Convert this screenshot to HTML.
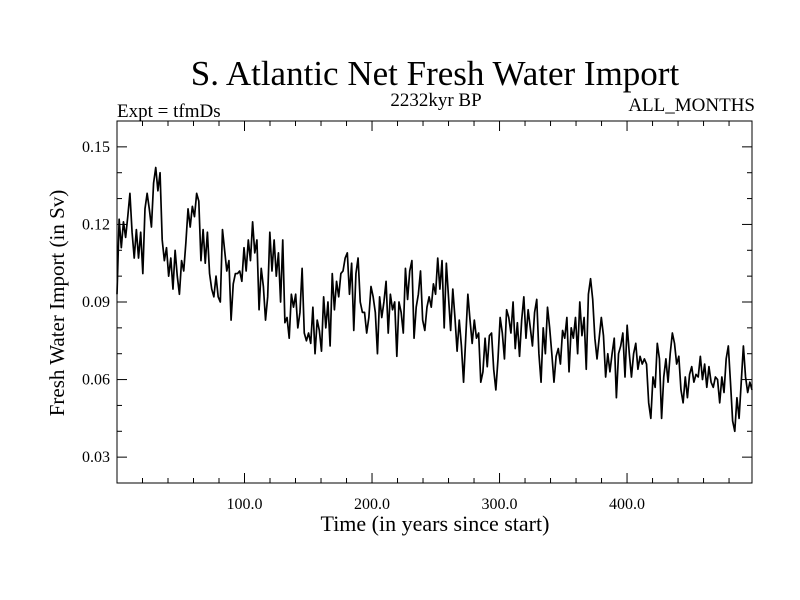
<!DOCTYPE html>
<html><head><meta charset="utf-8"><style>
html,body{margin:0;padding:0;background:#fff;}
svg{display:block;font-family:"Liberation Serif",serif;}
</style></head><body>
<svg id="chart" width="800" height="600" viewBox="0 0 800 600">
<rect x="0" y="0" width="800" height="600" fill="#fff"/>
<text x="435" y="85" text-anchor="middle" font-size="35">S. Atlantic Net Fresh Water Import</text>
<text x="117" y="117" font-size="19">Expt = tfmDs</text>
<text x="436" y="106" text-anchor="middle" font-size="19">2232kyr BP</text>
<text x="755" y="111" text-anchor="end" font-size="19">ALL_MONTHS</text>
<text x="0" y="0" transform="translate(64,303) rotate(-90)" text-anchor="middle" font-size="21">Fresh Water Import (in Sv)</text>
<text x="435" y="531" text-anchor="middle" font-size="22">Time (in years since start)</text>
<g id="axes"></g>
<g id="series"></g>
<rect x="117" y="121" width="635" height="362" fill="none" stroke="#000" stroke-width="1"/>
</svg>
<script>
const xTickValues = [100, 200, 300, 400];
const xTickLabels = ["100.0", "200.0", "300.0", "400.0"];
const yTickValues = [0.03, 0.06, 0.09, 0.12, 0.15];
const yTickLabels = ["0.03", "0.06", "0.09", "0.12", "0.15"];
const xDomain = [0, 498];
const yDomain = [0.02, 0.16];
const importValues = [
0.093,0.122,0.111,0.121,0.115,0.123,0.132,0.117,0.107,0.118,0.107,0.117,0.101,0.126,0.132,0.126,0.119,0.136,0.142,0.133,0.140,0.114,0.106,0.111,0.100,0.107,0.095,0.110,0.100,0.093,0.106,0.102,0.113,0.126,0.119,0.127,0.123,0.132,0.129,0.106,0.118,0.105,0.117,0.101,0.095,0.092,0.100,0.092,0.090,0.118,0.110,0.102,0.106,0.083,0.097,0.101,
0.101,0.102,0.098,0.111,0.102,0.114,0.106,0.121,0.109,0.114,0.087,0.103,0.096,0.083,0.092,0.117,0.102,0.114,0.100,0.109,0.090,0.114,0.082,0.084,0.076,0.093,0.088,0.093,0.080,0.086,0.103,0.078,0.075,0.078,0.074,0.088,0.070,0.083,0.079,0.071,0.092,0.080,0.090,0.073,0.101,0.087,0.098,0.092,0.101,0.102,0.107,0.109,0.093,0.105,0.079,0.101,
0.107,0.090,0.086,0.086,0.078,0.084,0.096,0.092,0.086,0.070,0.092,0.084,0.090,0.098,0.078,0.093,0.087,0.090,0.069,0.090,0.086,0.078,0.103,0.091,0.102,0.106,0.076,0.088,0.093,0.102,0.083,0.079,0.088,0.092,0.088,0.097,0.093,0.107,0.095,0.106,0.080,0.105,0.092,0.079,0.095,0.084,0.071,0.083,0.073,0.059,0.076,0.093,0.083,0.074,0.083,0.076,0.078,0.059,
0.063,0.076,0.065,0.077,0.078,0.064,0.056,0.068,0.084,0.078,0.068,0.087,0.084,0.078,0.090,0.072,0.082,0.069,0.083,0.092,0.076,0.087,0.080,0.073,0.086,0.091,0.070,0.059,0.080,0.070,0.088,0.080,0.070,0.059,0.069,0.072,0.066,0.079,0.076,0.084,0.063,0.080,0.076,0.084,0.070,0.090,0.077,0.084,0.064,0.093,0.099,0.091,0.076,0.068,0.076,0.084,0.077,0.061,0.070,0.063,0.070,0.076,
0.053,0.070,0.073,0.078,0.061,0.081,0.070,0.061,0.070,0.074,0.064,0.069,0.066,0.068,0.066,0.051,0.045,0.061,0.057,0.074,0.068,0.045,0.061,0.068,0.059,0.070,0.078,0.074,0.066,0.069,0.056,0.051,0.061,0.053,0.062,0.065,0.059,0.062,0.061,0.069,0.060,0.066,0.057,0.065,0.059,0.057,0.061,0.060,0.051,0.061,0.055,0.068,0.073,0.059,0.044,0.040,0.053,0.045,0.059,0.073,0.061,0.055,0.059,0.056
];
const importYears = importValues.map((v, i) => i * (xDomain[1] - xDomain[0]) / (importValues.length - 1) + xDomain[0]);

const L = 117, R = 752, T = 121, B = 483;
function xScale(v) { return L + (v - xDomain[0]) / (xDomain[1] - xDomain[0]) * (R - L); }
function yScale(v) { return B - (v - yDomain[0]) / (yDomain[1] - yDomain[0]) * (B - T); }
const NS = "http://www.w3.org/2000/svg";
const axes = document.getElementById("axes");
function line(x1, y1, x2, y2, name) {
  const l = document.createElementNS(NS, "line");
  l.setAttribute("x1", x1); l.setAttribute("y1", y1); l.setAttribute("x2", x2); l.setAttribute("y2", y2);
  l.setAttribute("stroke", "#000"); l.setAttribute("stroke-width", "1");
  
  
  axes.appendChild(l);
}
for (let v = 20; v < xDomain[1]; v += 20) {
  const x = xScale(v);
  const len = (v % 100 === 0) ? 10 : 5;
  line(x, B, x, B - len, "x-tick");
  line(x, T, x, T + len, "x-tick-top");
}
for (let k = 3; k <= 15; k++) {
  const v = k / 100;
  const y = yScale(v);
  const len = (k % 3 === 0) ? 10 : 5;
  line(L, y, L + len, y, "y-tick");
  line(R, y, R - len, y, "y-tick-right");
}
xTickValues.forEach((v, i) => {
  const t = document.createElementNS(NS, "text");
  t.setAttribute("x", xScale(v)); t.setAttribute("y", 509);
  t.setAttribute("text-anchor", "middle"); t.setAttribute("font-size", "16");
  t.textContent = xTickLabels[i];
  
  
  axes.appendChild(t);
});
yTickValues.forEach((v, i) => {
  const t = document.createElementNS(NS, "text");
  t.setAttribute("x", 110); t.setAttribute("y", yScale(v) + 5);
  t.setAttribute("text-anchor", "end"); t.setAttribute("font-size", "16");
  t.textContent = yTickLabels[i];
  
  
  axes.appendChild(t);
});
const pts = importValues.map((v, i) => xScale(importYears[i]).toFixed(2) + "," + yScale(v).toFixed(2)).join(" ");
const pl = document.createElementNS(NS, "polyline");
pl.setAttribute("points", pts);
pl.setAttribute("fill", "none"); pl.setAttribute("stroke", "#000"); pl.setAttribute("stroke-width", "1.7");
pl.setAttribute("stroke-linejoin", "round");


document.getElementById("series").appendChild(pl);
</script>
</body></html>
